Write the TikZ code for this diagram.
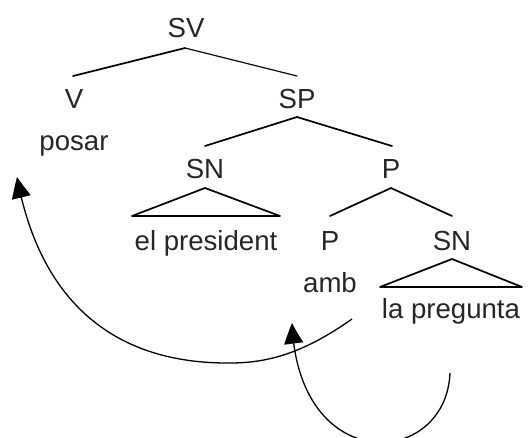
\documentclass[tikz,border=0pt]{standalone}
\usepackage{fontspec}
\setmainfont{Liberation Sans}
\usetikzlibrary{arrows.meta,bending}
\begin{document}
\begin{tikzpicture}[x=1pt,y=-1pt,
  lbl/.style={anchor=base,inner sep=0pt,font=\fontsize{27.6}{33}\selectfont,text=black!85},
  edge/.style={line width=1.7pt,line cap=round},
  thinedge/.style={line width=1.2pt,line cap=round},
  mv/.style={line width=1.3pt,-{Triangle[length=21pt,width=19pt,bend]}}]
\useasboundingbox (0,0) rectangle (528,437);
% labels
\node[lbl] (sv) at (186,37) {SV};
\node[lbl] (v) at (74,108) {V};
\node[lbl] (posar) at (74,150) {posar};
\node[lbl] (sp) at (297,108) {SP};
\node[lbl] (sn1) at (205,178) {SN};
\node[lbl] (p1) at (391,178) {P};
\node[lbl] (pres) at (206,250) {el president};
\node[lbl] (p2) at (330,250) {P};
\node[lbl] (sn2) at (452,250) {SN};
\node[lbl] (amb) at (330,292) {amb};
\node[lbl] (preg) at (451,318) {la pregunta};
% tree anchor points
\coordinate (svb) at (185,48);
\coordinate (vt) at (73,76);
\coordinate (spt) at (297,76);
\coordinate (spb) at (297,117);
\coordinate (sn1t) at (205,146);
\coordinate (p1t) at (392,146);
\coordinate (sn1a) at (205,188);
\coordinate (sn1l) at (132,216);
\coordinate (sn1r) at (280,216);
\coordinate (p1b) at (391,188);
\coordinate (p2t) at (330,216);
\coordinate (sn2t) at (452,216);
\coordinate (sn2a) at (452,259);
\coordinate (sn2l) at (380,287);
\coordinate (sn2r) at (522,287);
% tree edges
\draw[edge] (svb) -- (vt);
\draw[thinedge] (svb) -- (spt);
\draw[edge] (spb) -- (sn1t);
\draw[edge] (spb) -- (p1t);
\draw[edge,line join=round] (sn1l) -- (sn1a) -- (sn1r) -- cycle;
\draw[edge] (p1b) -- (p2t);
\draw[edge] (p1b) -- (sn2t);
\draw[edge,line join=round] (sn2l) -- (sn2a) -- (sn2r) -- cycle;
% movement arrows
\coordinate (m1s) at (352,319);
\coordinate (m1m) at (230,363);
\coordinate (m1e) at (17,177);
\coordinate (m2s) at (450,373);
\coordinate (m2e) at (292,323);
\draw[mv] (m1s) .. controls (305,352) and (270,363) .. (m1m) .. controls (105,364) and (38,292) .. (m1e);
\draw[mv] (m2s) .. controls (446,468) and (298,478) .. (m2e);
\end{tikzpicture}
\end{document}
